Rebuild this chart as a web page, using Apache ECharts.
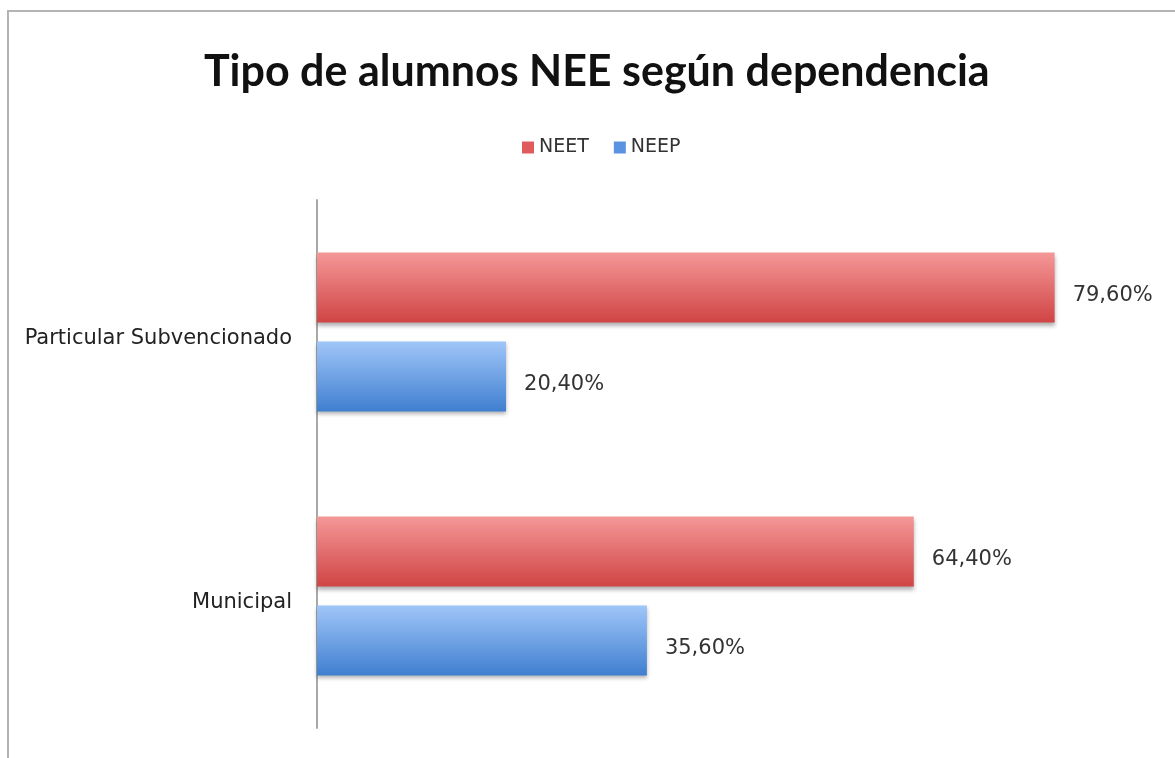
<!DOCTYPE html>
<html>
<head>
<meta charset="utf-8">
<script src="https://cdn.jsdelivr.net/npm/echarts@6/dist/echarts.min.js"></script>
<style>
  html, body { margin: 0; padding: 0; background: #fff; }
  #frame { position: absolute; left: 7px; top: 10px; width: 1175px; height: 760px; border-left: 2px solid #b4b4b4; border-top: 2px solid #b4b4b4; }
  #main { position: absolute; left: 0; top: 0; width: 1175px; height: 758px; }
</style>
</head>
<body>
<div id="frame"></div>
<div id="main"></div>
<script>
const categories = ['Particular Subvencionado', 'Municipal']
const neet = [79.6, 64.4]
const neep = [20.4, 35.6]

const fmt = (p) => p.value.toFixed(2).replace('.', ',') + '%'

const grad = (top, bottom) => new echarts.graphic.LinearGradient(0, 0, 0, 1, [
  { offset: 0, color: top },
  { offset: 1, color: bottom }
])

// texto un poco más abajo del centro, como en el original
const labelStyle = {
  show: true,
  position: 'right',
  distance: 18,
  offset: [0, 8],
  formatter: fmt,
  color: '#333',
  fontSize: 21,
  fontFamily: 'DejaVu Sans'
}

const barShadow = {
  shadowColor: 'rgba(0,0,0,0.3)',
  shadowBlur: 4,
  shadowOffsetY: 3
}

const chart = echarts.init(document.getElementById('main'))
chart.setOption({
  animation: false,
  title: {
    text: 'Tipo de alumnos NEE según dependencia',
    left: 199,
    top: 46,
    textStyle: { fontFamily: 'Lato', fontWeight: 'bold', fontSize: 43, color: '#111' }
  },
  legend: {
    top: 133,
    left: 517,
    itemWidth: 12,
    itemHeight: 12,
    itemGap: 25,
    icon: 'rect',
    textStyle: { fontFamily: 'DejaVu Sans', fontSize: 19, color: '#333' },
    data: [
      { name: 'NEET', itemStyle: { color: '#e05c5c' } },
      { name: 'NEEP', itemStyle: { color: '#5b93e0' } }
    ]
  },
  grid: { left: 317, right: 24, top: 200, bottom: 30 },
  xAxis: {
    type: 'value',
    min: 0,
    max: 90,
    show: false
  },
  yAxis: {
    type: 'category',
    inverse: true,
    data: categories,
    axisLine: { lineStyle: { color: '#a8a8a8', width: 2 } },
    axisTick: { show: false },
    axisLabel: {
      color: '#222',
      fontSize: 21,
      fontFamily: 'DejaVu Sans',
      margin: 25,
      verticalAlign: 'top',
      lineHeight: 14
    }
  },
  series: [
    {
      name: 'NEET',
      type: 'bar',
      data: neet,
      barWidth: 70,
      barGap: '27%',
      itemStyle: Object.assign({ color: grad('#f59898', '#d04444') }, barShadow),
      label: labelStyle
    },
    {
      name: 'NEEP',
      type: 'bar',
      data: neep,
      barWidth: 70,
      itemStyle: Object.assign({ color: grad('#a0c6f8', '#3f7fd0') }, barShadow),
      label: labelStyle
    }
  ]
})
</script>
</body>
</html>
